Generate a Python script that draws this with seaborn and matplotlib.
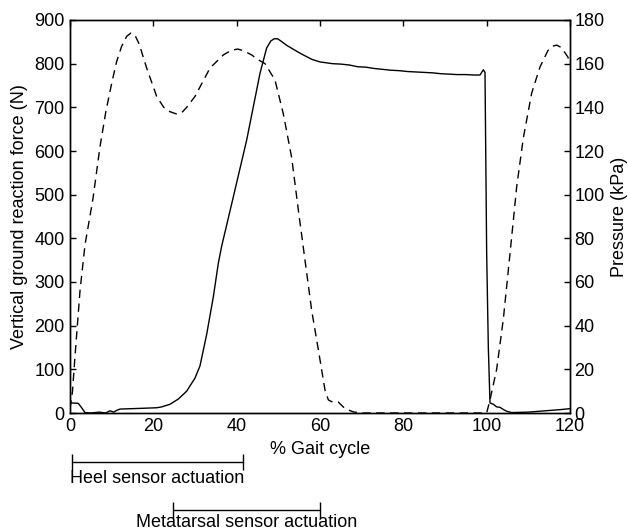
import numpy as np
import pandas as pd
import matplotlib
matplotlib.use('Agg')
import matplotlib.pyplot as plt
import matplotlib.transforms as mtransforms
import seaborn as sns

# vertical ground reaction force (N), solid line, left axis
gait_force = [0, 0.5, 2.0, 2.8, 3.6, 5, 7, 8.5, 9.6, 10.5, 11.2, 12, 15, 18, 20.8,
              22, 24, 26, 28, 30, 31.2, 32.8, 34.4, 35.6, 36.4, 39.2, 42.4, 45.6,
              47.2, 48.2, 49.0, 49.8, 50.6, 52, 55.2, 58, 60, 63, 65, 67, 69, 71, 73, 75,
              77, 79, 81, 83, 85, 87, 89, 91, 93, 95, 97, 98.4, 99.2, 99.6, 100,
              100.4, 100.8, 101.6, 102.4, 103.2, 104, 104.8, 106, 110, 114, 118, 120]
force_n = [22, 23, 22, 12, 1, 0, 2, 0, 5, 2, 6, 9, 10, 11, 12,
           14, 20, 32, 50, 80, 108, 180, 266, 343, 382, 495, 625, 778,
           836, 852, 857, 857, 852, 842, 824, 810, 804, 800, 799, 797, 793, 792, 789, 787,
           785, 784, 782, 781, 780, 779, 777, 776, 775, 775, 774, 774, 786, 780, 366,
           150, 23, 20, 14, 13, 8, 4, 1, 2, 5, 8, 10]

# plantar pressure (kPa), dashed line, right axis
gait_pressure = [0, 0.6, 1.2, 2.4, 3.6, 5.5, 7.2, 8.6, 10, 11.2, 12.4, 13.6, 14.6, 15.6,
                 16.6, 18.4, 20.8, 22.5, 24, 25.5, 26.8, 28, 30, 33.6, 36.8, 38.6, 40.2,
                 41.6, 43.6, 45, 46.8, 49.2, 51.2, 53.2, 54.8, 56.4, 58, 59.6, 61.2, 62,
                 63, 64.4, 66, 68, 70, 80, 90, 100, 100.8, 102.4, 104, 105.6, 107.2, 108.8,
                 110.8, 112.8, 114.7, 115.8, 116.8, 117.8, 118.8, 119.5, 120]
pressure_kpa = [2, 10, 26, 56, 77, 98, 122, 138, 151, 161, 168, 172.5, 174, 173,
                169, 158, 145, 140, 138, 137, 137.5, 140, 145, 158, 164, 166, 166.7,
                166, 164, 162, 160, 152.5, 137, 117, 93, 70, 47, 29, 10.5, 6,
                5, 5, 2, 0.5, 0, 0, 0, 0, 6, 20, 43, 73, 103.5, 126,
                146.5, 158.5, 166, 168, 168.5, 167.5, 165, 163, 160]

heel_span = [0.5, 41.5]
metatarsal_span = [24.7, 60]

sns.set_theme(style='white')
plt.rcParams['font.family'] = ['Liberation Sans', 'DejaVu Sans']

fig = plt.figure(figsize=(6.29, 5.29), dpi=100)
ax = fig.add_axes([70 / 629, 116 / 529, 500 / 629, 393 / 529])
ax2 = ax.twinx()

force_df = pd.DataFrame({'gait': gait_force, 'force': force_n})
press_df = pd.DataFrame({'gait': gait_pressure, 'pressure': pressure_kpa})

sns.lineplot(data=force_df, x='gait', y='force', ax=ax, color='black', linewidth=1.0)
sns.lineplot(data=press_df, x='gait', y='pressure', ax=ax2, color='black',
             linewidth=1.0, linestyle=(0, (6, 4)))

ax.set_xlim(0, 120)
ax.set_ylim(0, 900)
ax2.set_ylim(0, 180)
ax.set_xticks(range(0, 121, 20))
ax.set_yticks(range(0, 901, 100))
ax2.set_yticks(range(0, 181, 20))

for a in (ax, ax2):
    for s in a.spines.values():
        s.set_color('black')
        s.set_linewidth(1.0)

ax.tick_params(axis='both', direction='in', length=4, width=1, colors='black',
               labelsize=13, top=True, right=False)
ax.tick_params(axis='x', pad=3.5)
ax.tick_params(axis='y', pad=4)
ax2.tick_params(axis='y', direction='in', length=4, width=1, colors='black',
                labelsize=13, pad=3)

ax.set_xlabel('% Gait cycle', fontsize=13, color='black')
ax.xaxis.set_label_coords(0.5, -0.072)
ax.set_ylabel('Vertical ground reaction force (N)', fontsize=13, color='black', va='center')
ax.yaxis.set_label_coords(-0.100, 0.5)
ax2.set_ylabel('Pressure (kPa)', fontsize=13, color='black', va='center', rotation=90)
ax2.yaxis.set_label_coords(1.10, 0.5)

# actuation ranges below the axis
trans = mtransforms.blended_transform_factory(ax.transData, ax.transAxes)
ax.plot(heel_span, [-0.124, -0.124], transform=trans, color='black', lw=1,
        marker='|', markersize=11, markeredgewidth=1, clip_on=False)
ax.text(np.mean(heel_span), -0.145, 'Heel sensor actuation', transform=trans,
        ha='center', va='top', fontsize=13, color='black')
ax.plot(metatarsal_span, [-0.247, -0.247], transform=trans, color='black', lw=1,
        marker='|', markersize=11, markeredgewidth=1, clip_on=False)
ax.text(np.mean(metatarsal_span), -0.256, 'Metatarsal sensor actuation', transform=trans,
        ha='center', va='top', fontsize=13, color='black')

fig.savefig('out.png', dpi=100)
